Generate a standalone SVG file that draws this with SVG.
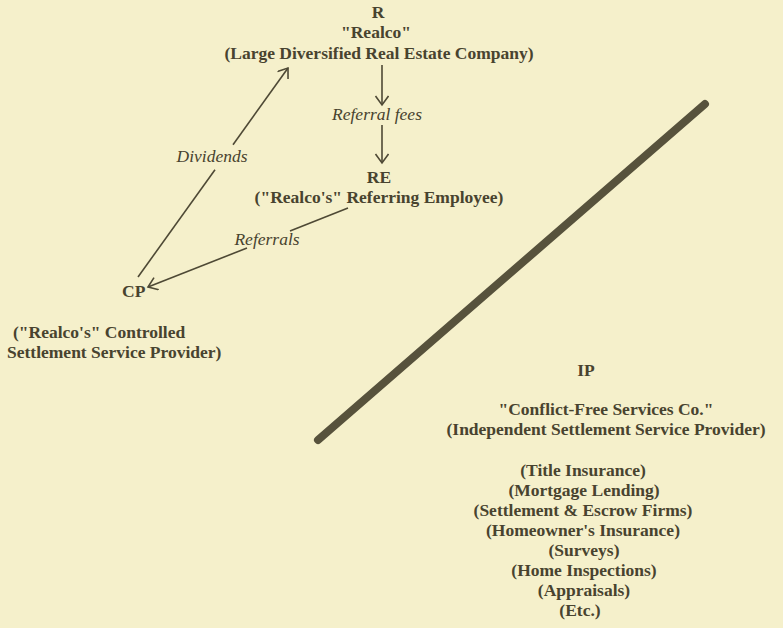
<svg xmlns="http://www.w3.org/2000/svg" width="783" height="628" viewBox="0 0 783 628">
  <defs>
    <style>
      .t { font-family: "Liberation Serif", "Times New Roman", serif; font-weight: bold; font-size: 17.5px; fill: #48432f; }
      .c { text-anchor: middle; }
      .lbl { font-family: "Liberation Serif", "Times New Roman", serif; font-style: italic; font-size: 17.5px; fill: #48432f; text-anchor: middle; }
      .ln { stroke: #4e4935; stroke-width: 1.6; fill: none; }
    </style>
    <marker id="arr" markerUnits="userSpaceOnUse" markerWidth="14" markerHeight="16" refX="10" refY="7" orient="auto">
      <path d="M1,0.5 L10,7 L1,13.5" fill="none" stroke="#4e4935" stroke-width="1.6"/>
    </marker>
  </defs>
  <rect width="783" height="628" fill="#f5f0cb"/>

  <g id="connectors">
    <line class="ln" x1="382" y1="65" x2="382" y2="105" marker-end="url(#arr)"/>
    <line class="ln" x1="382" y1="125" x2="382" y2="163" marker-end="url(#arr)"/>
    <line class="ln" x1="138" y1="277" x2="215" y2="169.7"/>
    <line class="ln" x1="233" y1="144.7" x2="288" y2="68" marker-end="url(#arr)"/>
    <line class="ln" x1="348" y1="208" x2="290" y2="231"/>
    <line class="ln" x1="247" y1="248" x2="148" y2="287" marker-end="url(#arr)"/>
    <text class="lbl" x="377" y="120">Referral fees</text>
    <text class="lbl" x="212" y="162">Dividends</text>
    <text class="lbl" x="267" y="245">Referrals</text>
  </g>

  <g id="divider">
    <line x1="318" y1="440" x2="705" y2="104" stroke="#57523c" stroke-width="8" stroke-linecap="round"/>
  </g>

  <g id="R">
    <text class="t c" x="378" y="18">R</text>
    <text class="t c" x="376" y="38">"Realco"</text>
    <text class="t c" x="379" y="59">(Large Diversified Real Estate Company)</text>
  </g>

  <g id="RE">
    <text class="t c" x="379" y="183">RE</text>
    <text class="t c" x="379" y="203">("Realco's" Referring Employee)</text>
  </g>

  <g id="CP">
    <text class="t" x="122" y="297">CP</text>
    <text class="t" x="13" y="338">("Realco's" Controlled</text>
    <text class="t" x="7" y="358">Settlement Service Provider)</text>
  </g>

  <g id="IP">
    <text class="t c" x="586" y="376">IP</text>
    <text class="t c" x="606" y="415">"Conflict-Free Services Co."</text>
    <text class="t c" x="606" y="435">(Independent Settlement Service Provider)</text>
    <text class="t c" x="583" y="476">(Title Insurance)</text>
    <text class="t c" x="584" y="496">(Mortgage Lending)</text>
    <text class="t c" x="583" y="516">(Settlement &amp; Escrow Firms)</text>
    <text class="t c" x="583" y="536">(Homeowner's Insurance)</text>
    <text class="t c" x="584" y="556">(Surveys)</text>
    <text class="t c" x="584" y="576">(Home Inspections)</text>
    <text class="t c" x="584" y="596">(Appraisals)</text>
    <text class="t c" x="580" y="616">(Etc.)</text>
  </g>
</svg>
